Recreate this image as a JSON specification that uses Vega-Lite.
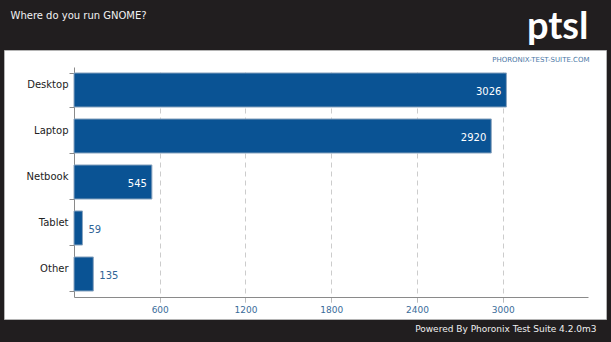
{
  "$schema": "https://vega.github.io/schema/vega-lite/v6.json",
  "autosize": {"type": "none"},
  "width": 602,
  "height": 269,
  "padding": {"left": 4, "top": 50, "right": 5, "bottom": 23},
  "background": "#211e1f",
  "view": {"fill": "#ffffff", "stroke": "#b4b4b4"},
  "config": {"font": "DejaVu Sans"},
  "data": {"values": [
    {"platform": "Desktop", "count": 3026},
    {"platform": "Laptop", "count": 2920},
    {"platform": "Netbook", "count": 545},
    {"platform": "Tablet", "count": 59},
    {"platform": "Other", "count": 135}
  ]},
  "resolve": {"axis": {"x": "independent", "y": "independent"}},
  "layer": [
    {
      "mark": {"type": "bar", "fill": "#0a5394", "stroke": "#8aa4bf", "strokeWidth": 1},
      "encoding": {
        "y": {"field": "platform", "type": "nominal", "sort": null,
          "scale": {"range": [17, 247], "paddingInner": 0.26, "paddingOuter": 0.13},
          "axis": {"orient": "left", "offset": -70, "domainColor": "#8a8a8a", "tickColor": "#8a8a8a", "tickBand": "extent", "tickSize": 5, "labelPadding": 1, "labelFont": "DejaVu Sans", "labelFontSize": 10, "labelColor": "#222222", "labelOffset": -6, "grid": false,
            "title": "Where do you run GNOME?", "titleAngle": 0, "titleX": -64, "titleY": -32, "titleAlign": "left", "titleBaseline": "alphabetic", "titleColor": "#f2f2f2", "titleFontSize": 10, "titleFontWeight": "normal", "titleFont": "DejaVu Sans"}},
        "x": {"field": "count", "type": "quantitative",
          "scale": {"domain": [0, 3597], "nice": false, "range": [70, 584]},
          "axis": {"orient": "bottom", "offset": -22, "values": [600, 1200, 1800, 2400, 3000], "format": "d", "grid": true, "gridDash": [5, 4], "gridColor": "#cccccc", "domainColor": "#8a8a8a", "tickColor": "#bbbbbb", "tickSize": 5, "labelColor": "#3a6c9a", "labelFontSize": 9, "labelFont": "DejaVu Sans", "labelPadding": 3,
            "title": "Powered By Phoronix Test Suite 4.2.0m3", "titleX": 592, "titleY": 34, "titleAlign": "right", "titleBaseline": "alphabetic", "titleColor": "#f0f0f0", "titleFontSize": 9, "titleFontWeight": "normal", "titleFont": "DejaVu Sans"}}
      }
    },
    {
      "transform": [{"filter": "datum.count > 300"}],
      "mark": {"type": "text", "align": "right", "baseline": "middle", "dx": -5, "dy": 2, "color": "#ffffff", "fontSize": 10, "font": "DejaVu Sans"},
      "encoding": {
        "y": {"field": "platform", "type": "nominal", "sort": null,
          "axis": {"orient": "right", "labels": false, "ticks": false, "domain": false, "grid": false,
            "title": "PHORONIX-TEST-SUITE.COM", "titleAngle": 0, "titleX": -17, "titleY": 11, "titleAlign": "right", "titleBaseline": "alphabetic", "titleColor": "#4a78a6", "titleFontSize": 7, "titleFontWeight": "normal", "titleFont": "DejaVu Sans"}},
        "x": {"field": "count", "type": "quantitative",
          "axis": {"orient": "top", "labels": false, "ticks": false, "domain": false, "grid": false,
            "title": "ptsl", "titleX": 584, "titleY": -12, "titleAlign": "right", "titleBaseline": "alphabetic", "titleColor": "#ffffff", "titleFontSize": 38, "titleFontWeight": "bold", "titleFont": "Lato"}},
        "text": {"field": "count"}
      }
    },
    {
      "transform": [{"filter": "datum.count <= 300"}],
      "mark": {"type": "text", "align": "left", "baseline": "middle", "dx": 6, "dy": 2, "color": "#2f6496", "fontSize": 10, "font": "DejaVu Sans"},
      "encoding": {
        "y": {"field": "platform", "type": "nominal", "sort": null, "axis": null},
        "x": {"field": "count", "type": "quantitative", "axis": null},
        "text": {"field": "count"}
      }
    }
  ]
}
